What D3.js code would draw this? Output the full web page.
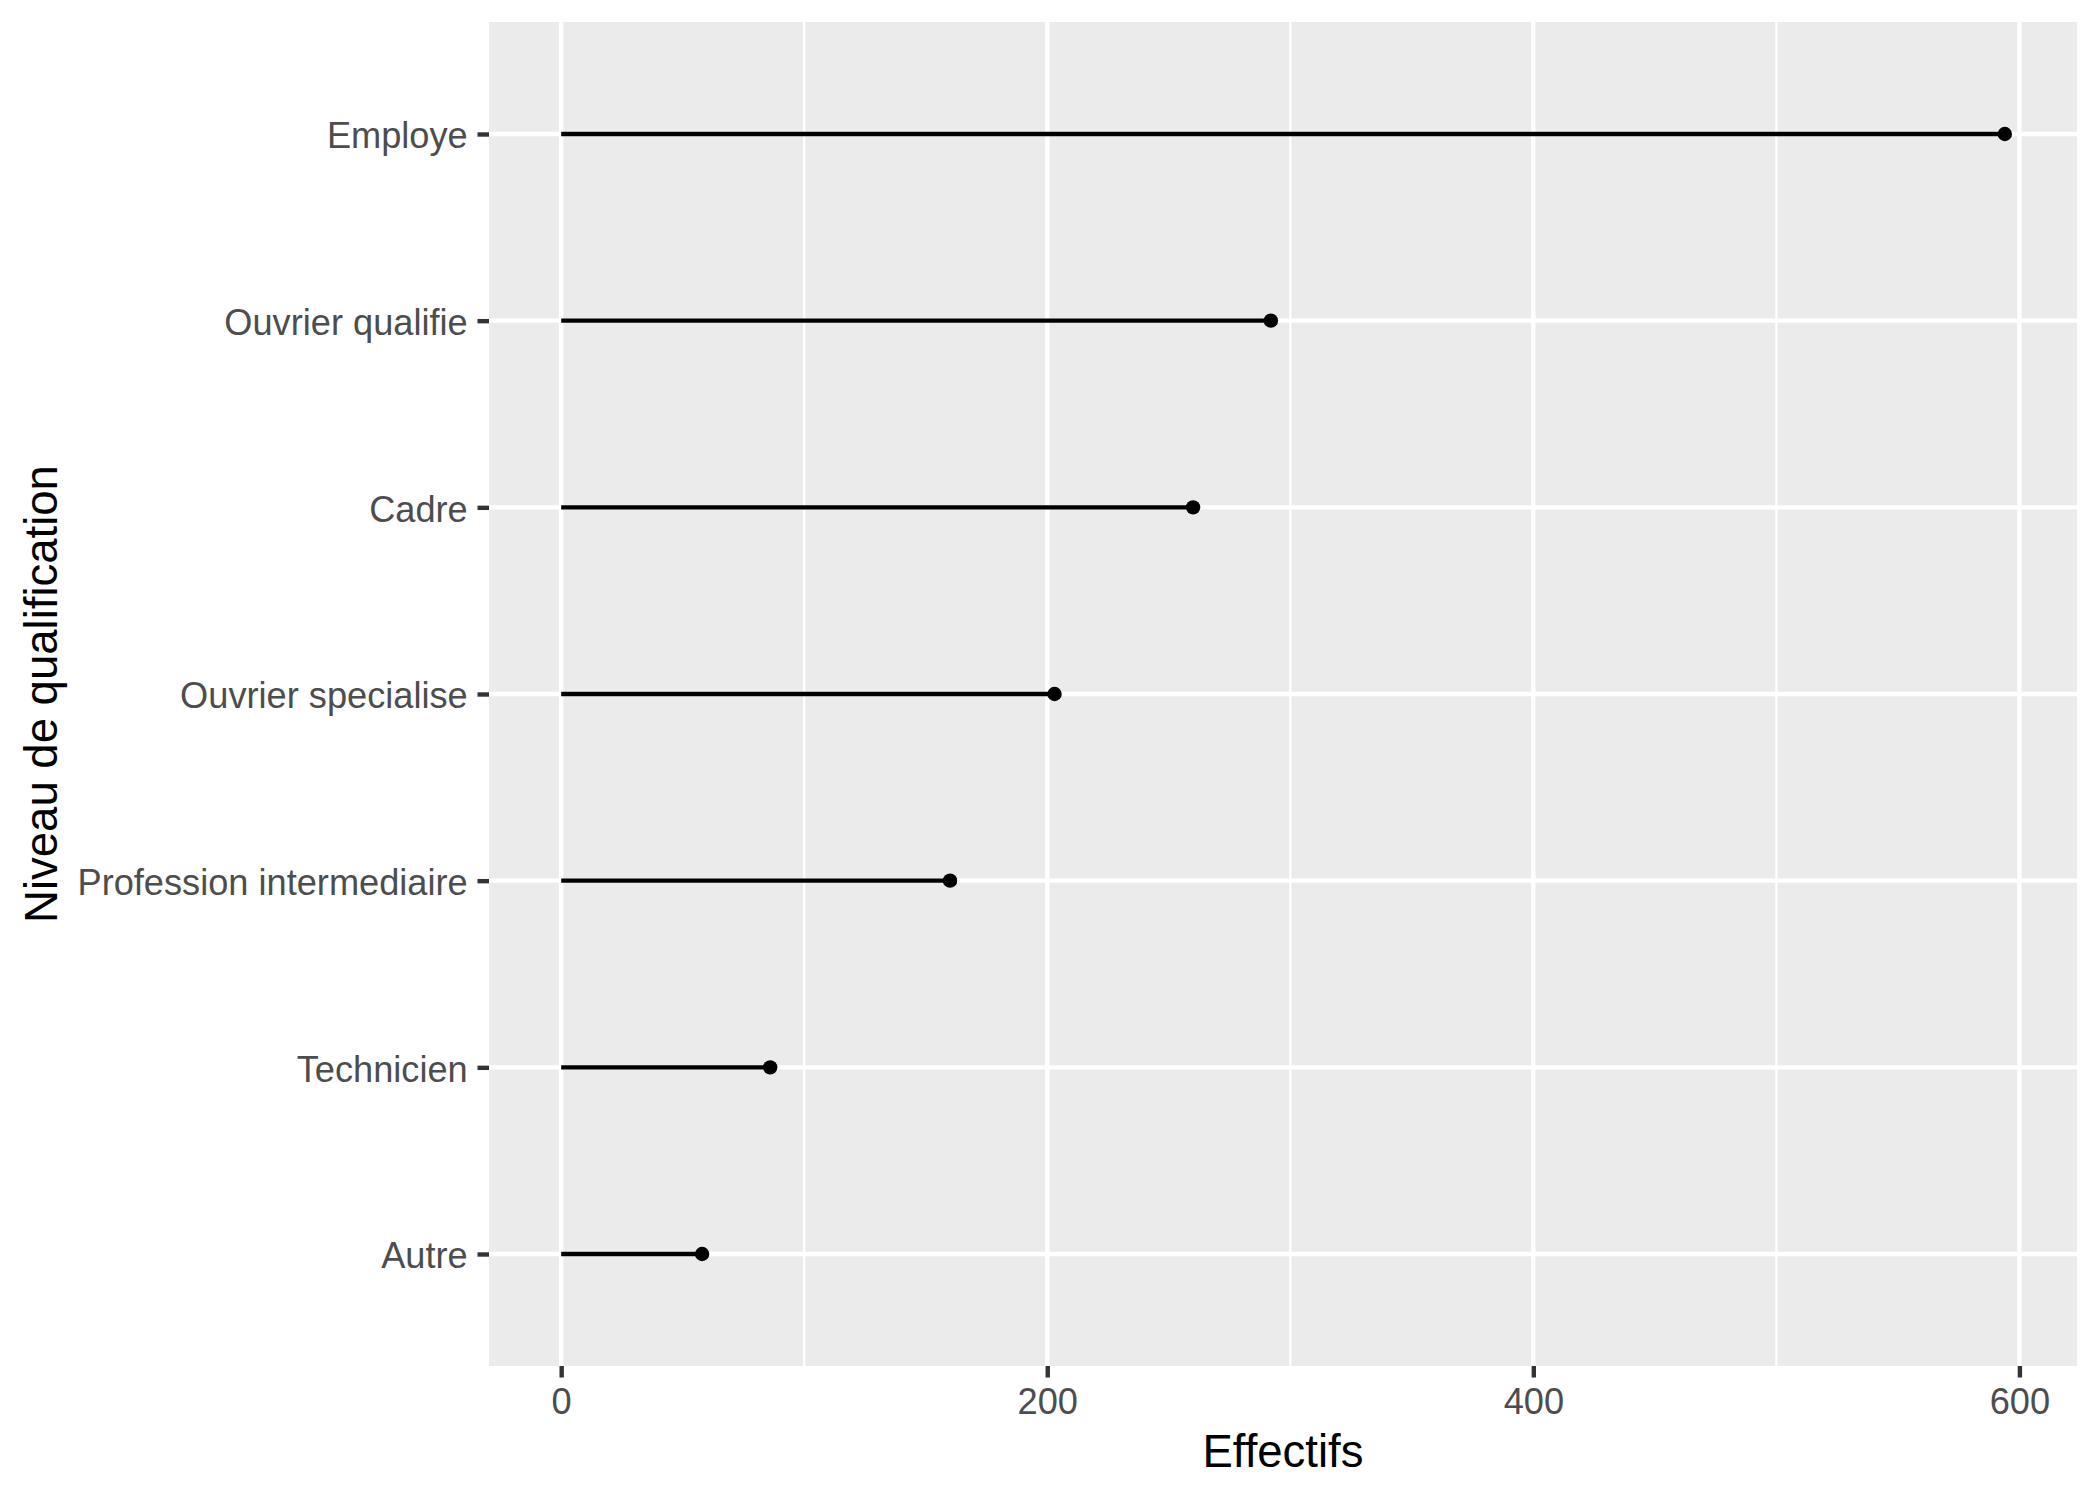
<!DOCTYPE html>
<html>
<head>
<meta charset="utf-8">
<script src="https://cdn.jsdelivr.net/npm/d3@7"></script>
<style>
  body { margin: 0; background: #ffffff; }
  svg { display: block; font-family: "Liberation Sans", Arial, sans-serif; }
</style>
</head>
<body>
<svg id="chart" width="2100" height="1500"></svg>
<script>
// Data (top to bottom as displayed)
const categories = ["Employe", "Ouvrier qualifie", "Cadre", "Ouvrier specialise",
                    "Profession intermediaire", "Technicien", "Autre"];
const effectifs = [594, 292, 260, 203, 160, 86, 58];
const xTicks = [0, 200, 400, 600];
const xMinor = [100, 300, 500];
const xTitle = "Effectifs";
const yTitle = "Niveau de qualification";

const data = categories.map((c, i) => ({ cat: c, value: effectifs[i] }));

const svg = d3.select("#chart");
const panel = { left: 489, right: 2077, top: 22, bottom: 1366 };

const maxV = d3.max(effectifs), minV = 0;
const span = maxV - minV;
const x = d3.scaleLinear()
  .domain([minV - 0.05 * span, maxV + 0.05 * span])
  .range([panel.left, panel.right]);
const y = d3.scalePoint()
  .domain(categories)
  .range([panel.top, panel.bottom])
  .padding(0.6);

// panel background
svg.append("rect")
  .attr("x", panel.left).attr("y", panel.top)
  .attr("width", panel.right - panel.left)
  .attr("height", panel.bottom - panel.top)
  .attr("fill", "#EBEBEB");

// minor grid
svg.append("g").selectAll("line").data(xMinor).join("line")
  .attr("x1", d => x(d)).attr("x2", d => x(d))
  .attr("y1", panel.top).attr("y2", panel.bottom)
  .attr("stroke", "#ffffff").attr("stroke-width", 2.2);

// major grid vertical
svg.append("g").selectAll("line").data(xTicks).join("line")
  .attr("x1", d => x(d)).attr("x2", d => x(d))
  .attr("y1", panel.top).attr("y2", panel.bottom)
  .attr("stroke", "#ffffff").attr("stroke-width", 4.4);

// major grid horizontal
svg.append("g").selectAll("line").data(categories).join("line")
  .attr("x1", panel.left).attr("x2", panel.right)
  .attr("y1", d => y(d)).attr("y2", d => y(d))
  .attr("stroke", "#ffffff").attr("stroke-width", 4.4);

// segments
svg.append("g").selectAll("line").data(data).join("line")
  .attr("x1", x(0)).attr("x2", d => x(d.value))
  .attr("y1", d => y(d.cat)).attr("y2", d => y(d.cat))
  .attr("stroke", "#000000").attr("stroke-width", 4.4);

// points
svg.append("g").selectAll("circle").data(data).join("circle")
  .attr("cx", d => x(d.value)).attr("cy", d => y(d.cat))
  .attr("r", 7.2).attr("fill", "#000000");

// x axis
const gx = svg.append("g")
  .attr("transform", `translate(0,${panel.bottom})`)
  .call(d3.axisBottom(x).tickValues(xTicks).tickFormat(d3.format("d"))
    .tickSize(11.5).tickSizeOuter(0).tickPadding(10.5));
gx.select(".domain").remove();
gx.selectAll(".tick line").attr("stroke", "#333333").attr("stroke-width", 4.4);
gx.selectAll(".tick text").attr("fill", "#4D4D4D").attr("font-size", 36.2)
  .attr("font-family", "Liberation Sans, Arial, sans-serif");

// y axis
const gy = svg.append("g")
  .attr("transform", `translate(${panel.left},0)`)
  .call(d3.axisLeft(y).tickSize(11.5).tickSizeOuter(0).tickPadding(9.8));
gy.select(".domain").remove();
gy.selectAll(".tick line").attr("stroke", "#333333").attr("stroke-width", 4.4);
gy.selectAll(".tick text").attr("fill", "#4D4D4D").attr("font-size", 36.2)
  .attr("dy", "0.38em")
  .attr("font-family", "Liberation Sans, Arial, sans-serif");

// axis titles
svg.append("text")
  .attr("x", (panel.left + panel.right) / 2).attr("y", 1467)
  .attr("text-anchor", "middle").attr("font-size", 45.5).attr("fill", "#000000")
  .text(xTitle);

svg.append("text")
  .attr("transform", `translate(57,${(panel.top + panel.bottom) / 2}) rotate(-90)`)
  .attr("text-anchor", "middle").attr("font-size", 45.5).attr("fill", "#000000")
  .text(yTitle);
</script>
</body>
</html>
